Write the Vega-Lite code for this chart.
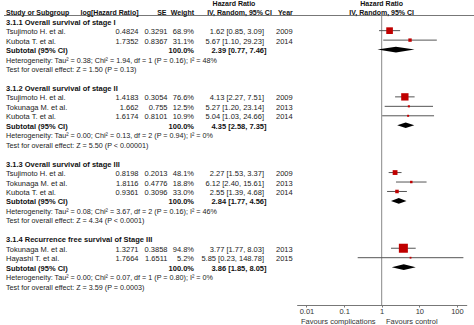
{
  "$schema": "https://vega.github.io/schema/vega-lite/v6.json",
  "width": 474,
  "height": 305,
  "autosize": "none",
  "padding": {"left": 0, "top": 0, "right": 0, "bottom": 20},
  "config": {
    "view": {"stroke": null},
    "font": "Liberation Sans",
    "text": {"fontSize": 7.5, "color": "#222", "baseline": "middle", "dy": 1.5}
  },
  "data": {"values": [
    {"row": 0, "type": "group", "label": "3.1.1 Overall survival of stage I"},
    {"row": 1, "type": "study", "label": "Tsujimoto H. et al.", "logHR": 0.4824, "se": 0.3291, "weight": 0.689, "hrci": "1.62 [0.85, 3.09]", "year": 2009, "hr": 1.62, "lo": 0.85, "hi": 3.09},
    {"row": 2, "type": "study", "label": "Kubota T. et al.", "logHR": 1.7352, "se": 0.8367, "weight": 0.311, "hrci": "5.67 [1.10, 29.23]", "year": 2014, "hr": 5.67, "lo": 1.10, "hi": 29.23},
    {"row": 3, "type": "subtotal", "label": "Subtotal (95% CI)", "weight": 1.0, "hrci": "2.39 [0.77, 7.46]", "hr": 2.39, "lo": 0.77, "hi": 7.46},
    {"row": 4, "type": "het", "label": "Heterogeneity: Tau² = 0.38; Chi² = 1.94, df = 1 (P = 0.16); I² = 48%"},
    {"row": 5, "type": "test", "label": "Test for overall effect: Z = 1.50 (P = 0.13)"},
    {"row": 7, "type": "group", "label": "3.1.2 Overall survival of stage II"},
    {"row": 8, "type": "study", "label": "Tsujimoto H. et al.", "logHR": 1.4183, "se": 0.3054, "weight": 0.766, "hrci": "4.13 [2.27, 7.51]", "year": 2009, "hr": 4.13, "lo": 2.27, "hi": 7.51},
    {"row": 9, "type": "study", "label": "Tokunaga M. et al.", "logHR": 1.662, "se": 0.755, "weight": 0.125, "hrci": "5.27 [1.20, 23.14]", "year": 2013, "hr": 5.27, "lo": 1.20, "hi": 23.14},
    {"row": 10, "type": "study", "label": "Kubota T. et al.", "logHR": 1.6174, "se": 0.8101, "weight": 0.109, "hrci": "5.04 [1.03, 24.66]", "year": 2014, "hr": 5.04, "lo": 1.03, "hi": 24.66},
    {"row": 11, "type": "subtotal", "label": "Subtotal (95% CI)", "weight": 1.0, "hrci": "4.35 [2.58, 7.35]", "hr": 4.35, "lo": 2.58, "hi": 7.35},
    {"row": 12, "type": "het", "label": "Heterogeneity: Tau² = 0.00; Chi² = 0.13, df = 2 (P = 0.94); I² = 0%"},
    {"row": 13, "type": "test", "label": "Test for overall effect: Z = 5.50 (P < 0.00001)"},
    {"row": 15, "type": "group", "label": "3.1.3 Overall survival of stage III"},
    {"row": 16, "type": "study", "label": "Tsujimoto H. et al.", "logHR": 0.8198, "se": 0.2013, "weight": 0.481, "hrci": "2.27 [1.53, 3.37]", "year": 2009, "hr": 2.27, "lo": 1.53, "hi": 3.37},
    {"row": 17, "type": "study", "label": "Tokunaga M. et al.", "logHR": 1.8116, "se": 0.4776, "weight": 0.188, "hrci": "6.12 [2.40, 15.61]", "year": 2013, "hr": 6.12, "lo": 2.40, "hi": 15.61},
    {"row": 18, "type": "study", "label": "Kubota T. et al.", "logHR": 0.9361, "se": 0.3096, "weight": 0.330, "hrci": "2.55 [1.39, 4.68]", "year": 2014, "hr": 2.55, "lo": 1.39, "hi": 4.68},
    {"row": 19, "type": "subtotal", "label": "Subtotal (95% CI)", "weight": 1.0, "hrci": "2.84 [1.77, 4.56]", "hr": 2.84, "lo": 1.77, "hi": 4.56},
    {"row": 20, "type": "het", "label": "Heterogeneity: Tau² = 0.08; Chi² = 3.67, df = 2 (P = 0.16); I² = 46%"},
    {"row": 21, "type": "test", "label": "Test for overall effect: Z = 4.34 (P < 0.0001)"},
    {"row": 23, "type": "group", "label": "3.1.4 Recurrence free survival of Stage III"},
    {"row": 24, "type": "study", "label": "Tokunaga M. et al.", "logHR": 1.3271, "se": 0.3858, "weight": 0.948, "hrci": "3.77 [1.77, 8.03]", "year": 2013, "hr": 3.77, "lo": 1.77, "hi": 8.03},
    {"row": 25, "type": "study", "label": "Hayashi T. et al.", "logHR": 1.7664, "se": 1.6511, "weight": 0.052, "hrci": "5.85 [0.23, 148.78]", "year": 2015, "hr": 5.85, "lo": 0.23, "hi": 148.78},
    {"row": 26, "type": "subtotal", "label": "Subtotal (95% CI)", "weight": 1.0, "hrci": "3.86 [1.85, 8.05]", "hr": 3.86, "lo": 1.85, "hi": 8.05},
    {"row": 27, "type": "het", "label": "Heterogeneity: Tau² = 0.00; Chi² = 0.07, df = 1 (P = 0.80); I² = 0%"},
    {"row": 28, "type": "test", "label": "Test for overall effect: Z = 3.59 (P = 0.0003)"}
  ]},
  "resolve": {"scale": {"x": "independent"}, "axis": {"x": "independent"}},
  "layer": [
    {
      "layer": [
        {
          "data": {"values": [{"k": "underline"}]},
          "mark": {"type": "rule", "color": "#777", "strokeWidth": 1},
          "encoding": {
            "x": {"datum": 4, "type": "quantitative", "scale": {"domain": [0, 474], "nice": false, "zero": false}, "axis": null},
            "x2": {"datum": 474},
            "y": {"datum": -0.6, "type": "quantitative", "scale": {"domain": [-2.24, 30], "reverse": true, "nice": false, "zero": false}, "axis": null}
          }
        },
        {
          "transform": [{"filter": {"field": "type", "oneOf": ["study"]}}],
          "mark": {"type": "text", "align": "left"},
          "encoding": {
            "x": {"datum": 6, "type": "quantitative"},
            "y": {"field": "row", "type": "quantitative"},
            "text": {"field": "label", "type": "nominal"}
          }
        },
        {
          "transform": [{"filter": {"field": "type", "oneOf": ["het", "test"]}}],
          "mark": {"type": "text", "align": "left", "fontSize": 7.2},
          "encoding": {
            "x": {"datum": 6, "type": "quantitative"},
            "y": {"field": "row", "type": "quantitative"},
            "text": {"field": "label", "type": "nominal"}
          }
        },
        {
          "transform": [{"filter": {"field": "type", "oneOf": ["group", "subtotal"]}}],
          "mark": {"type": "text", "align": "left", "fontWeight": "bold", "color": "#111"},
          "encoding": {
            "x": {"datum": 6, "type": "quantitative"},
            "y": {"field": "row", "type": "quantitative"},
            "text": {"field": "label", "type": "nominal"}
          }
        },
        {
          "transform": [{"filter": {"field": "type", "equal": "study"}}],
          "mark": {"type": "text", "align": "right"},
          "encoding": {
            "x": {"datum": 138.5, "type": "quantitative"},
            "y": {"field": "row", "type": "quantitative"},
            "text": {"field": "logHR", "type": "nominal"}
          }
        },
        {
          "transform": [{"filter": {"field": "type", "equal": "study"}}],
          "mark": {"type": "text", "align": "right"},
          "encoding": {
            "x": {"datum": 167.5, "type": "quantitative"},
            "y": {"field": "row", "type": "quantitative"},
            "text": {"field": "se", "type": "nominal"}
          }
        },
        {
          "transform": [{"filter": {"field": "type", "equal": "study"}}],
          "mark": {"type": "text", "align": "right"},
          "encoding": {
            "x": {"datum": 194, "type": "quantitative"},
            "y": {"field": "row", "type": "quantitative"},
            "text": {"field": "weight", "type": "quantitative", "format": ".1%"}
          }
        },
        {
          "transform": [{"filter": {"field": "type", "equal": "subtotal"}}],
          "mark": {"type": "text", "align": "right", "fontWeight": "bold", "color": "#111"},
          "encoding": {
            "x": {"datum": 194, "type": "quantitative"},
            "y": {"field": "row", "type": "quantitative"},
            "text": {"field": "weight", "type": "quantitative", "format": ".1%"}
          }
        },
        {
          "transform": [{"filter": {"field": "type", "equal": "study"}}],
          "mark": {"type": "text", "align": "right"},
          "encoding": {
            "x": {"datum": 264, "type": "quantitative"},
            "y": {"field": "row", "type": "quantitative"},
            "text": {"field": "hrci", "type": "nominal"}
          }
        },
        {
          "transform": [{"filter": {"field": "type", "equal": "subtotal"}}],
          "mark": {"type": "text", "align": "right", "fontWeight": "bold", "color": "#111"},
          "encoding": {
            "x": {"datum": 266.5, "type": "quantitative"},
            "y": {"field": "row", "type": "quantitative"},
            "text": {"field": "hrci", "type": "nominal"}
          }
        },
        {
          "transform": [{"filter": {"field": "type", "equal": "study"}}],
          "mark": {"type": "text", "align": "left"},
          "encoding": {
            "x": {"datum": 276, "type": "quantitative"},
            "y": {"field": "row", "type": "quantitative"},
            "text": {"field": "year", "type": "nominal"}
          }
        },
        {
          "data": {"values": [{"t": "Hazard Ratio"}]},
          "mark": {"type": "text", "align": "center", "fontWeight": "bold", "color": "#111", "fontSize": 7},
          "encoding": {"x": {"datum": 234, "type": "quantitative"}, "y": {"datum": -2, "type": "quantitative"}, "text": {"field": "t"}}
        },
        {
          "data": {"values": [{"t": "Study or Subgroup"}]},
          "mark": {"type": "text", "align": "left", "fontWeight": "bold", "color": "#111", "fontSize": 7},
          "encoding": {"x": {"datum": 6, "type": "quantitative"}, "y": {"datum": -1, "type": "quantitative"}, "text": {"field": "t"}}
        },
        {
          "data": {"values": [{"t": "log[Hazard Ratio]"}]},
          "mark": {"type": "text", "align": "right", "fontWeight": "bold", "color": "#111", "fontSize": 7},
          "encoding": {"x": {"datum": 138.5, "type": "quantitative"}, "y": {"datum": -1, "type": "quantitative"}, "text": {"field": "t"}}
        },
        {
          "data": {"values": [{"t": "SE"}]},
          "mark": {"type": "text", "align": "right", "fontWeight": "bold", "color": "#111", "fontSize": 7},
          "encoding": {"x": {"datum": 166.5, "type": "quantitative"}, "y": {"datum": -1, "type": "quantitative"}, "text": {"field": "t"}}
        },
        {
          "data": {"values": [{"t": "Weight"}]},
          "mark": {"type": "text", "align": "right", "fontWeight": "bold", "color": "#111", "fontSize": 7},
          "encoding": {"x": {"datum": 194, "type": "quantitative"}, "y": {"datum": -1, "type": "quantitative"}, "text": {"field": "t"}}
        },
        {
          "data": {"values": [{"t": "IV, Random, 95% CI"}]},
          "mark": {"type": "text", "align": "center", "fontWeight": "bold", "color": "#111", "fontSize": 7},
          "encoding": {"x": {"datum": 239.5, "type": "quantitative"}, "y": {"datum": -1, "type": "quantitative"}, "text": {"field": "t"}}
        },
        {
          "data": {"values": [{"t": "Year"}]},
          "mark": {"type": "text", "align": "left", "fontWeight": "bold", "color": "#111", "fontSize": 7},
          "encoding": {"x": {"datum": 278, "type": "quantitative"}, "y": {"datum": -1, "type": "quantitative"}, "text": {"field": "t"}}
        }
      ]
    },
    {
      "layer": [
        {
          "data": {"values": [{"k": "null line"}]},
          "mark": {"type": "rule", "color": "#888", "strokeWidth": 1},
          "encoding": {
            "x": {"datum": 1, "type": "quantitative", "title": null,
              "scale": {"type": "log", "domain": [0.00549, 182.2], "range": [296.7, 466.7], "nice": false},
              "axis": {"orient": "bottom", "values": [0.01, 0.1, 1, 10, 100], "format": "~g", "grid": false, "title": null, "domainColor": "#777", "tickColor": "#777", "tickSize": 2, "labelFontSize": 7.5, "labelColor": "#333", "labelPadding": 0, "labelFlush": false, "labelFont": "Liberation Sans"}},
            "y": {"datum": -0.6, "type": "quantitative", "scale": {"domain": [-2.24, 30], "reverse": true, "nice": false, "zero": false}, "axis": null},
            "y2": {"datum": 30}
          }
        },
        {
          "transform": [{"filter": {"field": "type", "equal": "study"}}],
          "mark": {"type": "rule", "color": "#555", "strokeWidth": 1},
          "encoding": {
            "x": {"field": "lo", "type": "quantitative", "title": null},
            "x2": {"field": "hi"},
            "y": {"field": "row", "type": "quantitative"}
          }
        },
        {
          "transform": [{"filter": {"field": "type", "equal": "study"}}],
          "mark": {"type": "square", "filled": true, "color": "#c00000", "opacity": 1},
          "encoding": {
            "x": {"field": "hr", "type": "quantitative", "title": null},
            "y": {"field": "row", "type": "quantitative"},
            "size": {"field": "weight", "type": "quantitative", "scale": {"type": "pow", "exponent": 2, "domain": [0, 1], "range": [3, 90]}, "legend": null}
          }
        },
        {
          "transform": [
            {"filter": {"field": "type", "equal": "subtotal"}},
            {"fold": ["lo", "hr", "hi"], "as": ["k", "xv"]},
            {"calculate": "datum.k === 'hr' ? datum.row - 0.3 : datum.row", "as": "ytop"},
            {"calculate": "datum.k === 'hr' ? datum.row + 0.3 : datum.row", "as": "ybot"}
          ],
          "mark": {"type": "area", "color": "#000", "opacity": 1},
          "encoding": {
            "x": {"field": "xv", "type": "quantitative", "title": null},
            "y": {"field": "ytop", "type": "quantitative"},
            "y2": {"field": "ybot"},
            "detail": {"field": "row", "type": "nominal"}
          }
        },
        {
          "data": {"values": [{"t": "Hazard Ratio"}]},
          "mark": {"type": "text", "align": "center", "fontWeight": "bold", "color": "#111", "fontSize": 7},
          "encoding": {"x": {"datum": 1, "type": "quantitative", "title": null}, "y": {"datum": -2, "type": "quantitative"}, "text": {"field": "t"}}
        },
        {
          "data": {"values": [{"t": "IV, Random, 95% CI"}]},
          "mark": {"type": "text", "align": "center", "fontWeight": "bold", "color": "#111", "fontSize": 7},
          "encoding": {"x": {"datum": 1, "type": "quantitative", "title": null}, "y": {"datum": -1, "type": "quantitative"}, "text": {"field": "t"}}
        },
        {
          "data": {"values": [{"t": "Favours complications"}]},
          "mark": {"type": "text", "align": "right", "color": "#333"},
          "encoding": {"x": {"datum": 0.69, "type": "quantitative", "title": null}, "y": {"datum": 31.6, "type": "quantitative"}, "text": {"field": "t"}}
        },
        {
          "data": {"values": [{"t": "Favours control"}]},
          "mark": {"type": "text", "align": "left", "color": "#333"},
          "encoding": {"x": {"datum": 1.3, "type": "quantitative", "title": null}, "y": {"datum": 31.6, "type": "quantitative"}, "text": {"field": "t"}}
        }
      ]
    }
  ]
}
